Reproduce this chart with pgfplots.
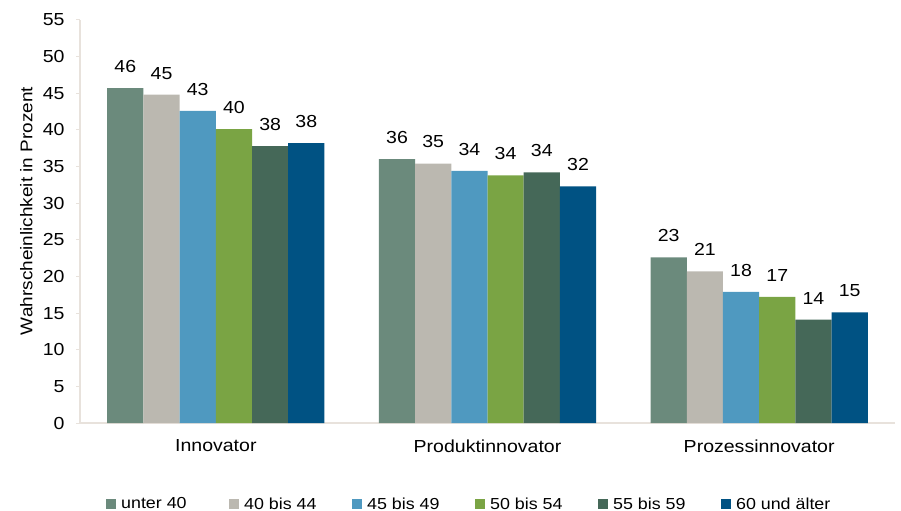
\documentclass[border=0pt]{standalone}
\usepackage{pgfplots}
\pgfplotsset{compat=1.18}
\usepackage{fontspec}
\setmainfont{Liberation Sans}[FakeStretch=1.12]
\definecolor{c1}{RGB}{107,138,124}
\definecolor{c2}{RGB}{187,184,176}
\definecolor{c3}{RGB}{79,153,192}
\definecolor{c4}{RGB}{122,164,68}
\definecolor{c5}{RGB}{69,104,88}
\definecolor{c6}{RGB}{0,82,131}
\definecolor{axisc}{RGB}{232,226,220}
\newcommand{\fs}{\fontsize{17.5}{20}\selectfont}
\newcommand{\legent}[1]{\makebox[109bp][l]{\hspace*{3bp}#1}}
\pgfplotsset{sq/.style={legend image code/.code={\draw[##1,draw=none] (0bp,-5bp) rectangle (10bp,5bp);}}}
\begin{document}
\begin{tikzpicture}
\begin{axis}[
  at={(0,0)}, anchor=south west,
  scale only axis, width=815bp, height=403bp,
  /pgf/number format/assume math mode=true,
  ymin=0, ymax=55, ytick={0,5,...,55},
  xmin=-0.5, xmax=2.5, xtick={0,1,2},
  xticklabels={Innovator,Produktinnovator,Prozessinnovator},
  ybar=0pt, bar width=36.2bp,
  axis x line*=bottom, axis y line*=left,
  axis line style={draw=axisc, line width=1.5bp},
  tick align=outside, major tick length=4bp,
  ytick style={draw=axisc, line width=1bp},
  xtick style={draw=none},
  ticklabel style={font=\fs},
  xticklabel style={yshift=-9bp},
  yticklabel style={xshift=-8bp},
  ylabel={Wahrscheinlichkeit in Prozent},
  ylabel style={font=\fontsize{17}{20}\selectfont, at={(axis description cs:-0.066,0.526)}, anchor=center},
  nodes near coords={\pgfmathprintnumber[fixed,precision=0]{\pgfplotspointmeta}},
  every node near coord/.append style={font=\fs, text=black, yshift=12bp},
  legend style={at={(axis description cs:0.0282,-0.201)}, anchor=west, draw=none, fill=none, legend columns=6, font=\fontsize{16}{19}\selectfont},
]
\addplot[fill=c1, draw=none, sq] coordinates {(0,45.7) (1,36.0) (2,22.6)};
\addplot[fill=c2, draw=none, sq] coordinates {(0,44.8) (1,35.4) (2,20.7)};
\addplot[fill=c3, draw=none, sq] coordinates {(0,42.6) (1,34.4) (2,17.9)};
\addplot[fill=c4, draw=none, sq] coordinates {(0,40.1) (1,33.8) (2,17.2)};
\addplot[fill=c5, draw=none, sq] coordinates {(0,37.8) (1,34.2) (2,14.1)};
\addplot[fill=c6, draw=none, sq] coordinates {(0,38.2) (1,32.3) (2,15.1)};
\addlegendentry{\legent{unter 40}}
\addlegendentry{\legent{40 bis 44}}
\addlegendentry{\legent{45 bis 49}}
\addlegendentry{\legent{50 bis 54}}
\addlegendentry{\legent{55 bis 59}}
\addlegendentry{\hspace*{3bp}60 und älter}
\end{axis}
\pgfresetboundingbox
\path[use as bounding box] (-80bp,-88bp) rectangle (821bp,423bp);
\end{tikzpicture}
\end{document}
